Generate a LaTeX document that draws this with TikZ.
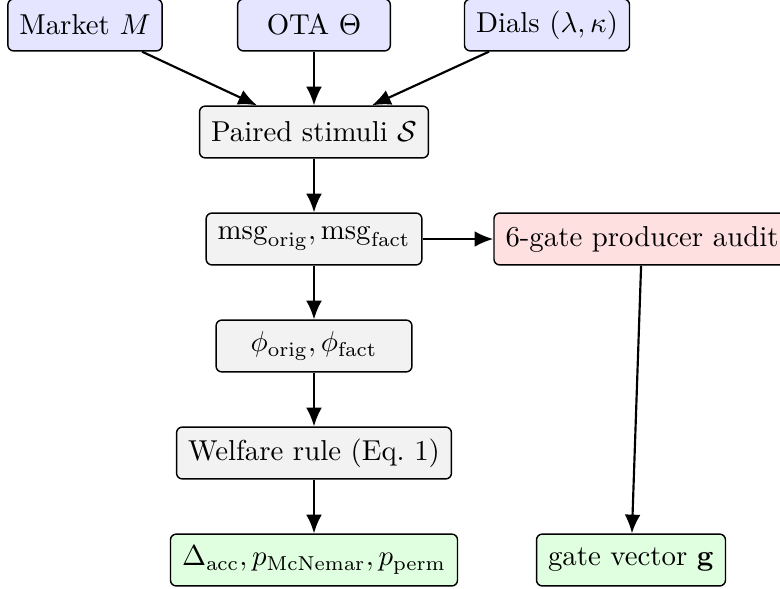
\documentclass[tikz,border=0pt]{standalone}
\usepackage{amsmath,amssymb}
\usetikzlibrary{arrows.meta}
\begin{document}
\begin{tikzpicture}[x=0.3472pt,y=-0.3472pt,
  box/.style={draw, line width=0.5pt, rounded corners=2pt, minimum height=18pt, inner xsep=4pt, inner ysep=3pt, font=\normalsize},
  inbox/.style={box, fill=blue!10},
  midbox/.style={box, fill=black!5},
  auditbox/.style={box, fill=red!12},
  outbox/.style={box, fill=green!12},
  arr/.style={-{Latex[length=6.5pt,width=5.5pt]}, line width=0.75pt}]
\useasboundingbox (0,0) rectangle (780,588);
\node[inbox] (market) at (85,25) {Market $M$};
\node[inbox, minimum width=53pt] (ota) at (314,25) {OTA $\Theta$};
\node[inbox] (dials) at (547,25) {Dials $(\lambda,\kappa)$};
\node[midbox] (paired) at (314,132) {Paired stimuli $\mathcal{S}$};
\node[midbox] (msg) at (314,239) {$\mathrm{msg}_{\mathrm{orig}},\mathrm{msg}_{\mathrm{fact}}$};
\node[auditbox] (audit) at (642,239) {6-gate producer audit};
\node[midbox, minimum width=68pt] (phi) at (314,346) {$\phi_{\mathrm{orig}},\phi_{\mathrm{fact}}$};
\node[midbox] (welfare) at (314,453) {Welfare rule (Eq.~1)};
\node[outbox] (delta) at (314,560) {$\Delta_{\mathrm{acc}},p_{\mathrm{McNemar}},p_{\mathrm{perm}}$};
\node[outbox] (gate) at (631,560) {gate vector $\mathbf{g}$};
\draw[arr] (market) -- (paired);
\draw[arr] (ota) -- (paired);
\draw[arr] (dials) -- (paired);
\draw[arr] (paired) -- (msg);
\draw[arr] (msg) -- (audit);
\draw[arr] (msg) -- (phi);
\draw[arr] (phi) -- (welfare);
\draw[arr] (welfare) -- (delta);
\draw[arr] (audit) -- (gate);
\end{tikzpicture}
\end{document}
